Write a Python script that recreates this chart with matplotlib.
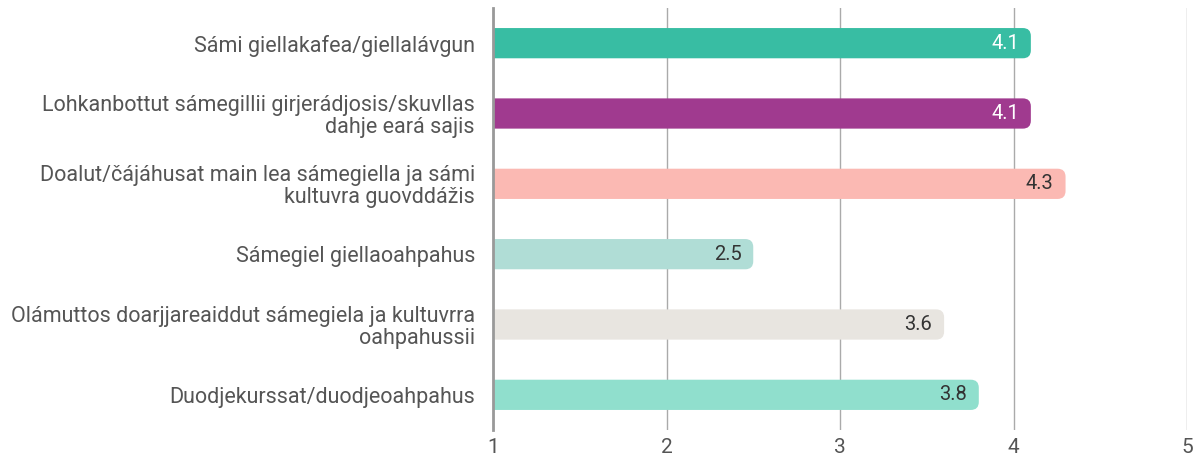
import matplotlib.pyplot as plt
from matplotlib.patches import FancyBboxPatch

plt.rcParams['font.family'] = ['Roboto', 'DejaVu Sans']

# data
categories = ['Sámi giellakafea/giellalávgun',
              'Lohkanbottut sámegillii girjerádjosis/skuvllas\ndahje eará sajis',
              'Doalut/čájáhusat main lea sámegiella ja sámi\nkultuvra guovddážis',
              'Sámegiel giellaoahpahus',
              'Olámuttos doarjjareaiddut sámegiela ja kultuvrra\noahpahussii',
              'Duodjekurssat/duodjeoahpahus']
values = [4.1, 4.1, 4.3, 2.5, 3.6, 3.8]
colors = ['#38bda3', '#a03a8f', '#fbb9b3', '#b0ddd6', '#e8e5e0', '#90dfcd']
text_colors = ['white', 'white', '#333333', '#333333', '#333333', '#333333']
xticks = [1, 2, 3, 4, 5]

fig = plt.figure(figsize=(11.96, 4.59), dpi=100)
ax = fig.add_axes([493/1196, 1-430/459, (1187-493)/1196, 422/459])

ypos = list(range(len(categories)))
bars = ax.barh(ypos, [v - 1 for v in values], left=1, height=0.43, color=colors)

# px per unit, used to keep the corners round
xpx = (1187 - 493) / 4
ypx = 422 / 6
aspect = xpx / ypx
for bar, c in zip(bars, colors):
    bar.set_visible(False)
    x0 = 0.85  # start left of the axis so the left corners get clipped
    w = bar.get_x() + bar.get_width() - x0
    p = FancyBboxPatch((x0, bar.get_y()), w, bar.get_height(),
                       boxstyle='round,pad=0,rounding_size=%f' % (8 / xpx),
                       mutation_aspect=aspect, facecolor=c, edgecolor='none',
                       zorder=2)
    ax.add_patch(p)

for y, v, tc in zip(ypos, values, text_colors):
    ax.annotate(f'{v:.1f}', (v, y), xytext=(-8.5, 0), textcoords='offset points',
                ha='right', va='center', color=tc, fontsize=14.5, zorder=3)

ax.set_xlim(1, 5)
ax.set_ylim(len(categories) - 0.5, -0.5)
ax.set_xticks(xticks)
ax.set_xticklabels([str(t) for t in xticks])
ax.set_yticks(ypos)
ax.set_yticklabels(categories, fontsize=15.5, color='#555555', linespacing=1.05)
ax.tick_params(axis='y', length=0, pad=13)
ax.tick_params(axis='x', length=0, pad=6, labelsize=15, labelcolor='#555555')

ax.grid(axis='x', color='#aaaaaa', linewidth=1, zorder=0)
ax.set_axisbelow(True)
for s in ['top', 'right', 'bottom']:
    ax.spines[s].set_visible(False)
ax.spines['left'].set_color('#999999')
ax.spines['left'].set_linewidth(2)
ax.spines['left'].set_zorder(4)

plt.savefig('out.png')
